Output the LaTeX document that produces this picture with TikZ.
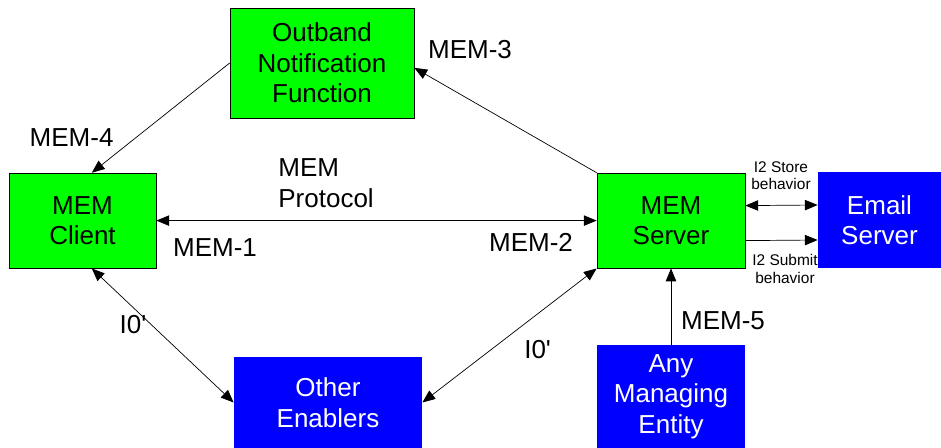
\documentclass[tikz,border=0pt]{standalone}
\usepackage{fontspec}
\setmainfont{Liberation Sans}
\usetikzlibrary{arrows.meta}

\begin{document}
\begin{tikzpicture}[>={Triangle[length=0.32cm,width=0.26cm]}, line width=0.5pt,
    greenbox/.style={rectangle, draw=black, fill=green, align=center, inner sep=0pt, font=\fontsize{18.5}{21.7}\selectfont},
    bluebox/.style={rectangle, fill=blue, text=white, align=center, inner sep=0pt, font=\fontsize{18.5}{21.7}\selectfont},
    lbl/.style={inner sep=0pt, align=left, font=\fontsize{18.5}{21.7}\selectfont},
    small/.style={inner sep=0pt, align=center, font=\fontsize{11}{12.2}\selectfont}]
    \useasboundingbox (0,0) rectangle (23.525,-11.2);

    %small labels first, the email box covers them
    \node[small] (store) at (19.525,-4.4) {I2 Store\\behavior};
    \node[small] (submit) at (19.625,-6.725) {I2 Submit\\behavior};

    %draw boxes by coordinates
    \node[greenbox, minimum width=4.6cm, minimum height=2.75cm] (onf) at (8.05,-1.575) {Outband\\Notification\\Function};
    \node[greenbox, minimum width=3.675cm, minimum height=2.375cm] (client) at (2.0625,-5.515) {MEM\\Client};
    \node[greenbox, minimum width=3.7cm, minimum height=2.375cm] (server) at (16.775,-5.515) {MEM\\Server};
    \node[bluebox, minimum width=3.075cm, minimum height=2.4cm] (email) at (21.9875,-5.5) {Email\\Server};
    \node[bluebox, minimum width=4.7cm, minimum height=2.275cm] (enablers) at (8.2,-10.0625) {Other\\Enablers};
    \node[bluebox, minimum width=3.7cm, minimum height=2.575cm] (managing) at (16.775,-9.9125) {Any\\Managing\\Entity};

    %interface labels
    \node[lbl] (mem3) at (11.75,-1.25) {MEM-3};
    \node[lbl] (mem4) at (1.79,-3.45) {MEM-4};
    \node[lbl, anchor=west] (proto) at (6.95,-4.575) {MEM\\Protocol};
    \node[lbl] (mem1) at (5.375,-6.2) {MEM-1};
    \node[lbl] (mem2) at (13.275,-6.05) {MEM-2};
    \node[lbl] (ileft) at (3.325,-8.125) {I0\textquotesingle};
    \node[lbl] (iright) at (13.44,-8.75) {I0\textquotesingle};
    \node[lbl] (mem5) at (18.075,-8.025) {MEM-5};

    % Draw edges (links)
    \draw[->] (onf.west) -- (client.79);
    \draw[->] (server.north west) -- (onf.-3);
    \draw[<->] (client.east) -- (server.west);
    \draw[<->] (client.-79) -- (enablers.west);
    \draw[<->] (enablers.east) -- (server.south west);
    \draw[->] (managing.north) -- (managing.north |- server.south);
    \draw[<->] ([yshift=0.375cm]server.east) -- ([yshift=0.375cm]email.west);
    \draw[->] ([yshift=-0.5cm]server.east) -- ([yshift=-0.5cm]email.west);
\end{tikzpicture}
\end{document}
